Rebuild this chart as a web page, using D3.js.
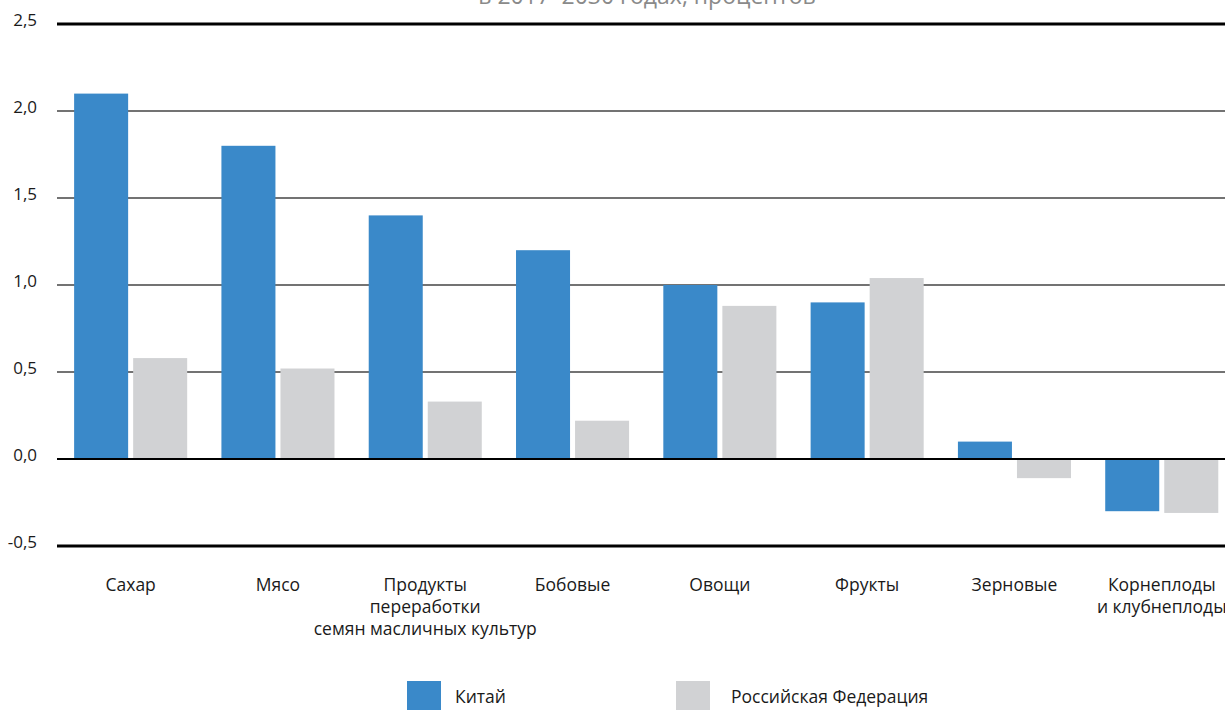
<!DOCTYPE html>
<html>
<head>
<meta charset="utf-8">
<script src="https://cdn.jsdelivr.net/npm/d3@7"></script>
<style>
  body { margin: 0; background: #fff; }
  text { font-family: "Open Sans", "Noto Sans", sans-serif; fill: #1a1a1a; }
</style>
</head>
<body>
<div id="chart"></div>
<script>
// data
var categories = ["Сахар", "Мясо", "Продукты|переработки|семян масличных культур", "Бобовые",
  "Овощи", "Фрукты", "Зерновые", "Корнеплоды|и клубнеплоды"];
var seriesNames = ["Китай", "Российская Федерация"];
var chinaValues = [2.1, 1.8, 1.4, 1.2, 1.0, 0.9, 0.1, -0.3];
var russiaValues = [0.58, 0.52, 0.33, 0.22, 0.88, 1.04, -0.11, -0.31];
var yTicks = [-0.5, 0, 0.5, 1.0, 1.5, 2.0, 2.5];
var colors = ["#3a89c9", "#d1d2d4"];

var svgWidth = 1225;
var svgHeight = 710;

var svg = d3.select("#chart")
  .append("svg")
  .attr("width", svgWidth)
  .attr("height", svgHeight);

var y = d3.scaleLinear()
  .domain([-0.5, 2.5])
  .range([546, 24]);

var x0 = d3.scaleBand()
  .domain(categories)
  .range([57, 57 + 8 * 147.3])
  .padding(0);

var x1 = d3.scaleBand()
  .domain(seriesNames)
  .range([0, x0.bandwidth()])
  .paddingInner(0.085)
  .paddingOuter(0.29);

// title (second line, cut at top as in the source)
svg.append("text")
  .attr("x", 647)
  .attr("y", 4)
  .attr("text-anchor", "middle")
  .style("font-size", "23px")
  .style("fill", "#8a8a8a")
  .text("в 2017–2030 годах, процентов");

// gridlines + y labels
var yAxis = d3.axisLeft(y)
  .tickValues(yTicks)
  .tickSize(0)
  .tickPadding(0)
  .tickFormat(d => d.toFixed(1).replace(".", ","));

var yAxisG = svg.append("g")
  .attr("transform", "translate(37,0)")
  .call(yAxis);
yAxisG.select(".domain").remove();
yAxisG.selectAll("text")
  .style("font-size", "17px")
  .attr("dy", "0.1em");

svg.append("g")
  .selectAll("line")
  .data(yTicks.filter(d => d !== 0))
  .enter()
  .append("line")
  .attr("x1", 57)
  .attr("x2", svgWidth)
  .attr("y1", d => y(d))
  .attr("y2", d => y(d))
  .attr("stroke", d => (d === 2.5 || d === -0.5) ? "#000" : "#444")
  .attr("stroke-width", d => (d === 2.5 || d === -0.5) ? 3 : 1.5);

// bars
var rows = categories.map((c, i) => ({
  cat: c,
  vals: [chinaValues[i], russiaValues[i]]
}));

var groups = svg.append("g")
  .selectAll("g")
  .data(rows)
  .enter()
  .append("g")
  .attr("transform", d => `translate(${x0(d.cat)},0)`);

groups.selectAll("rect")
  .data(d => d.vals.map((v, j) => ({ name: seriesNames[j], v: v, j: j })))
  .enter()
  .append("rect")
  .attr("x", d => x1(d.name))
  .attr("width", x1.bandwidth())
  .attr("y", d => y(Math.max(0, d.v)))
  .attr("height", d => Math.abs(y(d.v) - y(0)))
  .attr("fill", d => colors[d.j]);

// zero line
svg.append("line")
  .attr("x1", 57)
  .attr("x2", svgWidth)
  .attr("y1", y(0))
  .attr("y2", y(0))
  .attr("stroke", "#000")
  .attr("stroke-width", 2);

// category labels
var labels = svg.append("g")
  .selectAll("text")
  .data(categories)
  .enter()
  .append("text")
  .attr("text-anchor", "middle")
  .attr("x", d => x0(d) + x0.bandwidth() / 2)
  .attr("y", 591)
  .style("font-size", "17.5px");

labels.selectAll("tspan")
  .data(d => d.split("|"))
  .enter()
  .append("tspan")
  .attr("x", function() { return d3.select(this.parentNode).attr("x"); })
  .attr("dy", (d, i) => i === 0 ? 0 : 22)
  .text(d => d);

// legend
var legendX = [407, 676];
var legend = svg.append("g")
  .selectAll("g")
  .data(seriesNames)
  .enter()
  .append("g")
  .attr("transform", (d, i) => `translate(${legendX[i]},681)`);

legend.append("rect")
  .attr("width", 34)
  .attr("height", 29)
  .attr("fill", (d, i) => colors[i]);

legend.append("text")
  .attr("x", (d, i) => i === 0 ? 48 : 55)
  .attr("y", 22)
  .style("font-size", "17.5px")
  .text(d => d);
</script>
</body>
</html>
